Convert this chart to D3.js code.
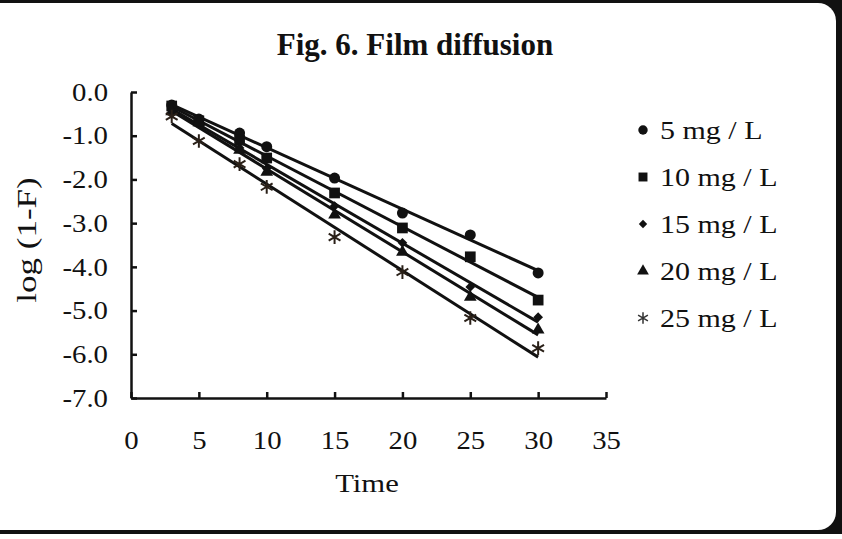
<!DOCTYPE html>
<html>
<head>
<meta charset="utf-8">
<script src="https://cdn.jsdelivr.net/npm/d3@7"></script>
<style>
  body { margin: 0; background: #fff; }
  svg text { font-family: "Liberation Serif", "Times New Roman", serif; fill: #111; }
</style>
</head>
<body>
<svg id="chart" width="842" height="539"></svg>
<script>
// sampling times (x values)
const times = [3, 5, 8, 10, 15, 20, 25, 30];

// log(1-F) for each initial concentration
const conc5  = [-0.30, -0.62, -0.94, -1.25, -1.97, -2.77, -3.27, -4.14];
const conc10 = [-0.32, -0.66, -1.10, -1.51, -2.31, -3.11, -3.77, -4.76];
const conc15 = [-0.35, -0.68, -1.28, -1.75, -2.61, -3.45, -4.46, -5.15];
const conc20 = [-0.45, -0.70, -1.33, -1.83, -2.81, -3.66, -4.69, -5.44];
const conc25 = [-0.56, -1.12, -1.65, -2.17, -3.32, -4.12, -5.17, -5.86];

const seriesNames = ['5 mg / L', '10 mg / L', '15 mg / L', '20 mg / L', '25 mg / L'];
const xTicks = [0, 5, 10, 15, 20, 25, 30, 35];
const yTicks = [0, -1, -2, -3, -4, -5, -6, -7];

const series = [
    {name: seriesNames[0], values: conc5,  symbol: d3.symbolCircle,   size: 95,  legendSize: 70},
    {name: seriesNames[1], values: conc10, symbol: d3.symbolSquare,   size: 115, legendSize: 80},
    {name: seriesNames[2], values: conc15, symbol: d3.symbolDiamond2, size: 60,  legendSize: 45},
    {name: seriesNames[3], values: conc20, symbol: d3.symbolTriangle, size: 70,  legendSize: 60},
    {name: seriesNames[4], values: conc25, symbol: d3.symbolAsterisk, size: 130, legendSize: 90}
];

const svg = d3.select('#chart');
const W = 842, H = 539;

// scanned frame: black edge with rounded right corners
svg.append('rect').attr('x', 0).attr('y', 0).attr('width', W).attr('height', 534).attr('fill', '#111');
svg.append('rect').attr('x', -30).attr('y', 3).attr('width', 866).attr('height', 527)
    .attr('rx', 18).attr('fill', '#fff');
svg.append('rect').attr('x', 0).attr('y', 534).attr('width', W).attr('height', 5).attr('fill', '#fff');

// stretched text helper (the scan is a little wider than tall)
function label(x, y, txt, size, opts = {}) {
    const g = svg.append('g')
        .attr('transform', `translate(${x},${y}) rotate(${opts.rotate || 0}) scale(${opts.sx || 1},1)`);
    g.append('text')
        .attr('text-anchor', opts.anchor || 'middle')
        .style('font-size', size + 'px')
        .style('font-weight', opts.bold ? 'bold' : 'normal')
        .text(txt);
    return g;
}

// scales
const xScale = d3.scaleLinear().domain([0, 35]).range([131, 606]);
const yScale = d3.scaleLinear().domain([-7, 0]).range([398, 92]);

// axes, ticks pointing inward
const xAxis = d3.axisBottom(xScale).tickValues(xTicks).tickSizeInner(-6).tickSizeOuter(0)
    .tickPadding(51).tickFormat(d => d);
const gx = svg.append('g').attr('transform', `translate(0,${yScale(-7)})`).call(xAxis);

const yAxis = d3.axisLeft(yScale).tickValues(yTicks).tickSizeInner(-6).tickSizeOuter(0)
    .tickPadding(20).tickFormat(d => d.toFixed(1));
const gy = svg.append('g').attr('transform', `translate(${xScale(0)},0)`).call(yAxis);

[gx, gy].forEach(g => {
    g.select('.domain').attr('stroke', '#111').attr('stroke-width', 2.5);
    g.selectAll('.tick line').attr('stroke', '#111').attr('stroke-width', 2.5);
    g.selectAll('.tick text').style('font-size', '25px').attr('fill', '#111')
        .style('font-family', '"Liberation Serif", "Times New Roman", serif');
});
gx.selectAll('.tick text').attr('dy', '0').attr('transform', 'scale(1.15,1)');
gy.selectAll('.tick text').attr('dy', '0.33em').attr('transform', 'scale(1.15,1)');

// titles
label(415, 55, 'Fig. 6. Film diffusion', 31, {bold: true});
label(367, 492, 'Time', 26, {sx: 1.18});
label(36, 240, 'log (1-F)', 28, {rotate: -90, sx: 1.25});

// least squares trend line for a series
function fit(xs, ys) {
    const mx = d3.mean(xs), my = d3.mean(ys);
    const slope = d3.sum(xs, (x, i) => (x - mx) * (ys[i] - my)) / d3.sum(xs, x => (x - mx) ** 2);
    return x => my + slope * (x - mx);
}

const plot = svg.append('g');
const xExtent = d3.extent(times);

series.forEach(s => {
    const f = fit(times, s.values);
    plot.append('path')
        .datum(xExtent)
        .attr('fill', 'none')
        .attr('stroke', '#111')
        .attr('stroke-width', 3)
        .attr('d', d3.line().x(d => xScale(d)).y(d => yScale(f(d))));
});

series.forEach(s => {
    const isStroke = s.symbol === d3.symbolAsterisk;
    plot.selectAll(null)
        .data(times.map((t, i) => [t, s.values[i]]))
        .join('path')
        .attr('transform', d => `translate(${xScale(d[0])},${yScale(d[1])})`)
        .attr('d', d3.symbol(s.symbol, s.size))
        .attr('fill', isStroke ? 'none' : '#111')
        .attr('stroke', isStroke ? '#2a2018' : 'none')
        .attr('stroke-width', 2);
});

// legend
const legendY = d3.scalePoint().domain(seriesNames).range([130, 318]);
series.forEach(s => {
    const isStroke = s.symbol === d3.symbolAsterisk;
    svg.append('path')
        .attr('transform', `translate(643,${legendY(s.name)})`)
        .attr('d', d3.symbol(s.symbol, s.legendSize))
        .attr('fill', isStroke ? 'none' : '#111')
        .attr('stroke', isStroke ? '#333' : 'none')
        .attr('stroke-width', 1.5);
    label(660, legendY(s.name) + 9, s.name, 25, {anchor: 'start', sx: 1.2});
});
</script>
</body>
</html>
